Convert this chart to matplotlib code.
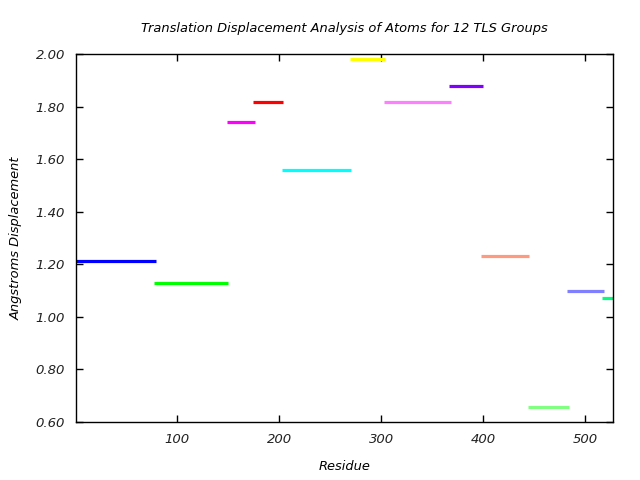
import matplotlib
matplotlib.use("Agg")
import matplotlib.pyplot as plt
from matplotlib.ticker import FormatStrFormatter

# TLS group residue ranges and their translation displacement
starts = [1, 77, 149, 174, 203, 269, 303, 366, 398, 444, 482, 516]
ends = [79, 150, 176, 204, 270, 304, 368, 400, 445, 484, 518, 527]
displacement = [1.214, 1.130, 1.740, 1.816, 1.557, 1.980, 1.816, 1.877, 1.233, 0.658, 1.100, 1.073]
colors = ["#0000ff", "#00ff00", "#ff00ff", "#ff0000", "#00ffff", "#ffff00",
          "#ff80ff", "#8000ff", "#ff9980", "#80ff80", "#8080ff", "#00ff80"]

xticks = [100, 200, 300, 400, 500]
yticks = [0.6, 0.8, 1.0, 1.2, 1.4, 1.6, 1.8, 2.0]

fig = plt.figure(figsize=(6.4, 4.8), dpi=100)
ax = fig.add_axes([0.11875, 0.1208, 0.8391, 0.7667])

for s, e, d, c in zip(starts, ends, displacement, colors):
    ax.plot([s, e], [d, d], color=c, lw=2.3, solid_capstyle="butt")

ax.set_xlim(1, 527)
ax.set_ylim(0.6, 2.0)
ax.set_xticks(xticks)
ax.set_yticks(yticks)
ax.yaxis.set_major_formatter(FormatStrFormatter("%.2f"))
ax.tick_params(direction="in", length=5, width=1, top=True, right=True,
               labelsize=9.5, pad=8)
for lab in ax.get_xticklabels() + ax.get_yticklabels():
    lab.set_fontstyle("italic")
    lab.set_color("#222222")
for sp in ax.spines.values():
    sp.set_linewidth(1)

ax.set_title("Translation Displacement Analysis of Atoms for 12 TLS Groups",
             fontsize=9.4, style="italic", pad=16)
ax.set_xlabel("Residue", fontsize=9.4, style="italic", labelpad=10)
ax.set_ylabel("Angstroms Displacement", fontsize=9.4, style="italic", labelpad=9)

fig.savefig("out.png", dpi=100)
